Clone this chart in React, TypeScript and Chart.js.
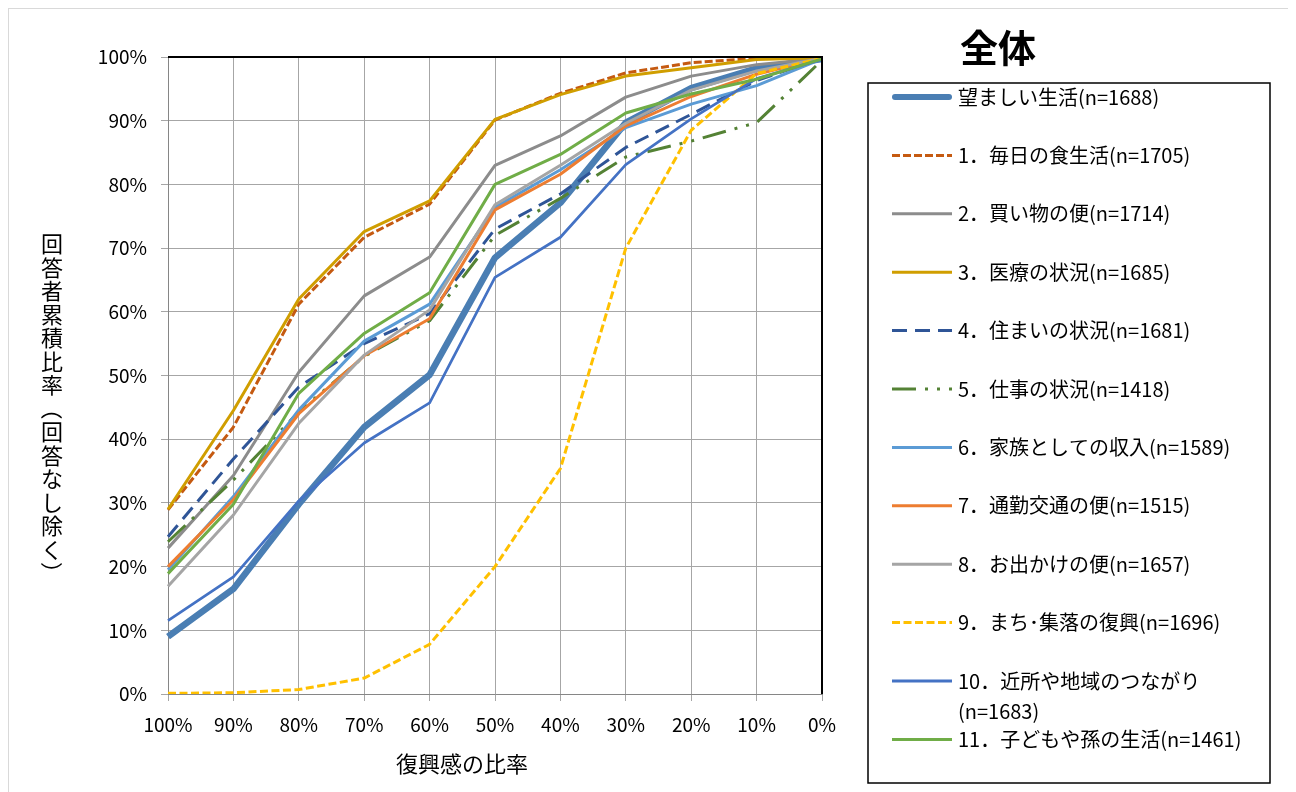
import React, { useEffect, useRef } from 'react';
import { Chart, registerables } from 'chart.js';

Chart.register(...registerables);

const categories = ['100%', '90%', '80%', '70%', '60%', '50%', '40%', '30%', '20%', '10%', '0%'];

const seriesNames = [
  '望ましい生活',
  '1．毎日の食生活',
  '2．買い物の便',
  '3．医療の状況',
  '4．住まいの状況',
  '5．仕事の状況',
  '6．家族としての収入',
  '7．通勤交通の便',
  '8．お出かけの便',
  '9．まち･集落の復興',
  '10．近所や地域のつながり',
  '11．子どもや孫の生活',
];
const sampleSizes = [1688, 1705, 1714, 1685, 1681, 1418, 1589, 1515, 1657, 1696, 1683, 1461];

const desiredLife = [9.0, 16.5, 29.8, 41.9, 50.1, 68.5, 77.1, 89.7, 95.1, 98.2, 99.7];
const dailyFood = [28.9, 41.9, 61.2, 71.7, 76.9, 90.1, 94.3, 97.5, 99.1, 99.8, 100];
const shopping = [22.9, 34.3, 50.5, 62.5, 68.6, 83.0, 87.6, 93.7, 97.0, 98.8, 99.8];
const medical = [29.0, 44.5, 62.0, 72.6, 77.4, 90.2, 94.1, 97.0, 98.3, 99.6, 99.9];
const housing = [24.7, 36.9, 48.2, 55.0, 59.7, 73.0, 78.5, 85.8, 91.0, 96.3, 99.8];
const work = [23.9, 33.6, 44.3, 53.0, 58.6, 72.0, 77.8, 84.3, 86.8, 89.7, 99.5];
const familyIncome = [19.5, 31.0, 44.6, 55.4, 61.2, 76.4, 82.3, 88.9, 92.6, 95.5, 99.7];
const commute = [20.0, 30.5, 44.0, 53.1, 58.9, 76.0, 81.6, 89.2, 93.8, 97.3, 99.8];
const outing = [16.9, 28.1, 42.5, 53.2, 60.3, 76.8, 83.0, 89.6, 94.8, 97.8, 99.8];
const townRecovery = [0.1, 0.2, 0.7, 2.5, 7.8, 20.0, 35.4, 70.0, 88.5, 97.4, 99.8];
const neighborhood = [11.5, 18.4, 30.3, 39.4, 45.7, 65.4, 71.7, 83.1, 90.3, 96.6, 99.6];
const children = [18.9, 29.8, 47.2, 56.6, 63.0, 80.0, 84.7, 91.2, 94.2, 96.5, 99.7];

const seriesValues = [
  desiredLife, dailyFood, shopping, medical, housing, work,
  familyIncome, commute, outing, townRecovery, neighborhood, children,
];

const seriesColors = [
  '#4a7eb3', '#c55a11', '#8c8c8c', '#d09e00', '#2f5597', '#548235',
  '#5b9bd5', '#ed7d31', '#a5a5a5', '#ffc000', '#4472c4', '#70ad47',
];
const seriesWidths = [6.5, 3, 3, 3, 3, 3, 3, 3, 3, 3, 2.7, 3];
const seriesDashes: number[][] = [
  [], [8, 3], [], [], [15, 8], [24, 9, 3, 9, 3, 9], [], [], [], [8, 3.5], [], [],
];

const FONT = '"Noto Sans CJK JP", "Noto Sans", sans-serif';
const X_TITLE = '復興感の比率';
const Y_TITLE = '回答者累積比率（回答なし除く）';
const CHART_TITLE = '全体';

const overlayPlugin = {
  id: 'overlay',
  afterDraw(chart: any) {
    const ctx: CanvasRenderingContext2D = chart.ctx;
    const a = chart.chartArea;
    ctx.save();

    // plot frame: top and right edges in black
    ctx.strokeStyle = '#000';
    ctx.lineWidth = 2;
    ctx.beginPath();
    ctx.moveTo(a.left, a.top);
    ctx.lineTo(a.right, a.top);
    ctx.lineTo(a.right, a.bottom);
    ctx.stroke();

    // x-axis title
    ctx.fillStyle = '#000';
    ctx.font = `22px ${FONT}`;
    ctx.textAlign = 'center';
    ctx.textBaseline = 'middle';
    ctx.fillText(X_TITLE, 453, 755);

    // y-axis title (vertical, upright characters)
    const chars = Array.from(Y_TITLE);
    chars.forEach((ch, i) => {
      const cx = 43;
      const cy = 235 + i * 23.5;
      if (ch === '（' || ch === '）') {
        ctx.save();
        ctx.translate(cx, cy);
        ctx.rotate(Math.PI / 2);
        ctx.fillText(ch, 0, 0);
        ctx.restore();
      } else {
        ctx.fillText(ch, cx, cy);
      }
    });

    // chart title
    ctx.font = `bold 38px ${FONT}`;
    ctx.fillText(CHART_TITLE, 989, 39);

    // legend box
    const bx = 859, by = 74, bw = 402, bh = 700;
    ctx.lineWidth = 1.5;
    ctx.strokeStyle = '#000';
    ctx.strokeRect(bx, by, bw, bh);

    ctx.font = `20px ${FONT}`;
    ctx.textAlign = 'left';
    ctx.textBaseline = 'middle';
    const textX = 949;
    const maxW = bx + bw - 8 - textX;
    chart.data.datasets.forEach((ds: any, i: number) => {
      const y = 88 + i * 58.4;
      ctx.save();
      ctx.strokeStyle = ds.borderColor;
      ctx.lineWidth = i === 0 ? 6 : 3;
      ctx.lineCap = i === 0 ? 'round' : 'butt';
      ctx.setLineDash(ds.borderDash || []);
      ctx.beginPath();
      ctx.moveTo(i === 0 ? 886 : 883, y);
      ctx.lineTo(i === 0 ? 940 : 943, y);
      ctx.stroke();
      ctx.restore();

      const name = seriesNames[i];
      const nPart = `(n=${sampleSizes[i]})`;
      const full = name + nPart;
      ctx.fillStyle = '#000';
      if (ctx.measureText(full).width > maxW) {
        ctx.fillText(name, textX, y);
        ctx.fillText(nPart, textX, y + 30);
      } else {
        ctx.fillText(full, textX, y);
      }
    });

    ctx.restore();
  },
};

export default function App() {
  const canvasRef = useRef<HTMLCanvasElement | null>(null);

  useEffect(() => {
    const canvas = canvasRef.current;
    if (!canvas) return;
    const datasets = seriesValues.map((vals, i) => ({
      label: seriesNames[i],
      data: vals,
      borderColor: seriesColors[i],
      backgroundColor: seriesColors[i],
      borderWidth: seriesWidths[i],
      borderDash: seriesDashes[i],
      borderJoinStyle: 'round' as const,
      borderCapStyle: 'butt' as const,
      pointRadius: 0,
      pointHoverRadius: 0,
      tension: 0,
      fill: false,
      order: seriesValues.length - i,
    }));

    const chart = new Chart(canvas, {
      type: 'line',
      data: { labels: categories, datasets },
      options: {
        animation: false,
        responsive: false,
        maintainAspectRatio: false,
        layout: { padding: { left: 0, right: 474, top: 48, bottom: 0 } },
        plugins: {
          legend: { display: false },
          title: { display: false },
          tooltip: { enabled: false },
        },
        scales: {
          x: {
            type: 'category',
            offset: false,
            afterFit: (scale: any) => {
              scale.height = 98;
            },
            grid: {
              color: '#a6a6a6',
              lineWidth: 1,
              offset: false,
              tickLength: 7,
              drawTicks: true,
            },
            border: { color: '#868686', width: 1 },
            ticks: {
              autoSkip: false,
              maxRotation: 0,
              minRotation: 0,
              padding: 12,
              color: '#000',
              font: { family: FONT, size: 19 },
            },
          },
          y: {
            min: 0,
            max: 100,
            afterFit: (scale: any) => {
              scale.width = 159;
            },
            grid: {
              color: '#a6a6a6',
              lineWidth: 1,
              tickLength: 7,
              drawTicks: true,
            },
            border: { color: '#868686', width: 1 },
            ticks: {
              stepSize: 10,
              padding: 14,
              color: '#000',
              font: { family: FONT, size: 19 },
              callback: (v: any) => `${v}%`,
            },
          },
        },
      },
      plugins: [overlayPlugin],
    });

    return () => chart.destroy();
  }, []);

  return (
    <div
      style={{
        position: 'relative',
        width: 1288,
        height: 784,
        boxSizing: 'border-box',
        borderTop: '1px solid #d9d9d9',
        borderLeft: '1px solid #d9d9d9',
        background: '#fff',
      }}
    >
      <canvas
        ref={canvasRef}
        width={1287}
        height={783}
        style={{ display: 'block', width: 1287, height: 783 }}
      />
    </div>
  );
}
